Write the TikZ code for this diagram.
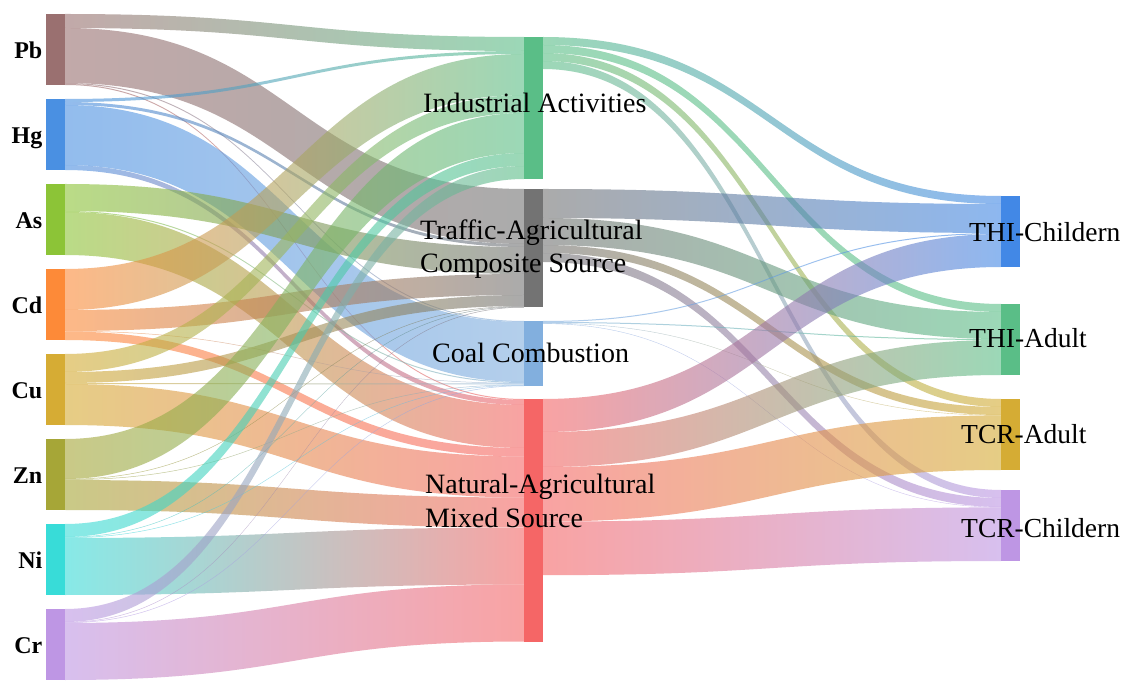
\documentclass[tikz,border=0pt]{standalone}
\usepackage{fontspec}
\setmainfont{Liberation Serif}
\usetikzlibrary{calc}
\definecolor{cPb}{RGB}{154,112,112}
\definecolor{cHg}{RGB}{74,144,226}
\definecolor{cAs}{RGB}{140,196,55}
\definecolor{cCd}{RGB}{253,138,56}
\definecolor{cCu}{RGB}{214,172,52}
\definecolor{cZn}{RGB}{166,166,55}
\definecolor{cNi}{RGB}{56,220,216}
\definecolor{cCr}{RGB}{190,150,228}
\definecolor{cInd}{RGB}{90,190,135}
\definecolor{cTra}{RGB}{115,115,115}
\definecolor{cCoa}{RGB}{130,175,222}
\definecolor{cNat}{RGB}{245,102,102}
\definecolor{cTHC}{RGB}{66,136,230}
\definecolor{cTHA}{RGB}{90,190,135}
\definecolor{cTCA}{RGB}{213,172,52}
\definecolor{cTCC}{RGB}{190,150,228}
\pgfdeclarelayer{back}
\pgfdeclarelayer{links}
\pgfsetlayers{back,links,main}
\tikzset{
  box/.style={inner sep=0pt, outer sep=0pt, minimum width=19pt, anchor=north west},
  elabel/.style={font=\fontsize{24}{28}\selectfont\bfseries, inner sep=0pt, anchor=base east},
  mlabel/.style={font=\fontsize{28}{33}\selectfont, inner sep=0pt, anchor=base west},
  rlabel/.style={font=\fontsize{27.5}{33}\selectfont, inner sep=0pt, anchor=base west},
  link/.style={fill opacity=0.6},
}
% #1 source node, #2 offset at source, #3 target node, #4 offset at target, #5 width, #6 #7 colours
\newcommand\flow[7]{%
  \shade[link, left color=#6, right color=#7]
    let \p1=(#1.north east), \p2=(#3.north west) in
    (\x1,\y1-#2pt) .. controls ({(\x1+\x2)/2},\y1-#2pt) and ({(\x1+\x2)/2},\y2-#4pt) .. (\x2,\y2-#4pt)
    -- (\x2,\y2-#4pt-#5pt) .. controls ({(\x1+\x2)/2},\y2-#4pt-#5pt) and ({(\x1+\x2)/2},\y1-#2pt-#5pt) .. (\x1,\y1-#2pt-#5pt)
    -- cycle;
}
\begin{document}
\begin{tikzpicture}[x=1pt,y=-1pt]
\useasboundingbox (0,0) rectangle (1128,692);
\begin{pgfonlayer}{back}
  \fill[white] (0,0) rectangle (1128,692);
\end{pgfonlayer}

% left nodes
\node[box, minimum height=71pt, fill=cPb] (pb) at (46,14) {};
\node[box, minimum height=71pt, fill=cHg] (hg) at (46,99) {};
\node[box, minimum height=71pt, fill=cAs] (as) at (46,184) {};
\node[box, minimum height=71pt, fill=cCd] (cd) at (46,269) {};
\node[box, minimum height=71pt, fill=cCu] (cu) at (46,354) {};
\node[box, minimum height=71pt, fill=cZn] (zn) at (46,439) {};
\node[box, minimum height=71pt, fill=cNi] (ni) at (46,524) {};
\node[box, minimum height=71pt, fill=cCr] (cr) at (46,609) {};
% middle nodes
\node[box, minimum height=142pt, fill=cInd] (ind) at (524,37) {};
\node[box, minimum height=118.5pt, fill=cTra] (tra) at (524,189) {};
\node[box, minimum height=65pt, fill=cCoa] (coa) at (524,321) {};
\node[box, minimum height=242.5pt, fill=cNat] (nat) at (524,399) {};
% right nodes
\node[box, minimum height=71pt, fill=cTHC] (thc) at (1001,196) {};
\node[box, minimum height=71pt, fill=cTHA] (tha) at (1001,304) {};
\node[box, minimum height=71pt, fill=cTCA] (tca) at (1001,399) {};
\node[box, minimum height=71pt, fill=cTCC] (tcc) at (1001,490) {};

\begin{pgfonlayer}{links}
% Pb
\flow{pb}{0}{ind}{0}{14}{cPb}{cInd}
\flow{pb}{14}{tra}{0}{55}{cPb}{cTra}
\flow{pb}{69}{coa}{0}{1}{cPb}{cCoa}
\flow{pb}{70}{nat}{0}{1}{cPb}{cNat}
% Hg
\flow{hg}{0}{ind}{14}{3}{cHg}{cInd}
\flow{hg}{3}{tra}{55}{3}{cHg}{cTra}
\flow{hg}{6}{coa}{1}{60}{cHg}{cCoa}
\flow{hg}{66}{nat}{1}{5}{cHg}{cNat}
% As
\flow{as}{0}{tra}{58}{27}{cAs}{cTra}
\flow{as}{27}{coa}{61}{1}{cAs}{cCoa}
\flow{as}{28}{nat}{6}{43}{cAs}{cNat}
% Cd
\flow{cd}{0}{ind}{17}{41}{cCd}{cInd}
\flow{cd}{41}{tra}{85}{21}{cCd}{cTra}
\flow{cd}{62}{coa}{62}{0.5}{cCd}{cCoa}
\flow{cd}{62.5}{nat}{49}{8.5}{cCd}{cNat}
% Cu
\flow{cu}{0}{ind}{58}{18}{cCu}{cInd}
\flow{cu}{18}{tra}{106}{11}{cCu}{cTra}
\flow{cu}{29}{coa}{62.5}{1}{cCu}{cCoa}
\flow{cu}{30}{nat}{57.5}{41}{cCu}{cNat}
% Zn
\flow{zn}{0}{ind}{76}{40}{cZn}{cInd}
\flow{zn}{40}{tra}{117}{0.5}{cZn}{cTra}
\flow{zn}{40.5}{coa}{63.5}{0.5}{cZn}{cCoa}
\flow{zn}{41}{nat}{98.5}{30}{cZn}{cNat}
% Ni
\flow{ni}{0}{ind}{116}{13}{cNi}{cInd}
\flow{ni}{13}{tra}{117.5}{0.5}{cNi}{cTra}
\flow{ni}{13.5}{coa}{64}{0.5}{cNi}{cCoa}
\flow{ni}{14}{nat}{128.5}{57}{cNi}{cNat}
% Cr
\flow{cr}{0}{ind}{129}{13}{cCr}{cInd}
\flow{cr}{13}{tra}{118}{0.5}{cCr}{cTra}
\flow{cr}{13.5}{coa}{64.5}{0.5}{cCr}{cCoa}
\flow{cr}{14}{nat}{185.5}{57}{cCr}{cNat}
% Industrial
\flow{ind}{0}{thc}{0}{8}{cInd}{cTHC}
\flow{ind}{8}{tha}{0}{8}{cInd}{cTHA}
\flow{ind}{16}{tca}{0}{8}{cInd}{cTCA}
\flow{ind}{24}{tcc}{0}{8}{cInd}{cTCC}
% Traffic
\flow{tra}{0}{thc}{8}{29}{cTra}{cTHC}
\flow{tra}{29}{tha}{8}{27}{cTra}{cTHA}
\flow{tra}{56}{tca}{8}{8}{cTra}{cTCA}
\flow{tra}{64}{tcc}{8}{9}{cTra}{cTCC}
% Coal
\flow{coa}{0}{thc}{37}{1}{cCoa}{cTHC}
\flow{coa}{1}{tha}{35}{1}{cCoa}{cTHA}
\flow{coa}{2}{tca}{16}{0.4}{cCoa}{cTCA}
\flow{coa}{2.4}{tcc}{17}{0.4}{cCoa}{cTCC}
% Natural
\flow{nat}{0}{thc}{38}{33}{cNat}{cTHC}
\flow{nat}{33}{tha}{36}{35}{cNat}{cTHA}
\flow{nat}{68}{tca}{16.4}{54.6}{cNat}{cTCA}
\flow{nat}{122.6}{tcc}{17.4}{53.6}{cNat}{cTCC}
\end{pgfonlayer}

% labels
\node[elabel] (lpb) at (42.5,58.2) {Pb};
\node[elabel] (lhg) at (42.5,143.2) {Hg};
\node[elabel] (las) at (42.5,228.2) {As};
\node[elabel] (lcd) at (42.5,313.2) {Cd};
\node[elabel] (lcu) at (42.5,398.2) {Cu};
\node[elabel] (lzn) at (42.5,483.2) {Zn};
\node[elabel] (lni) at (42.5,568.2) {Ni};
\node[elabel] (lcr) at (42.5,653.2) {Cr};

\node[mlabel] (lind) at (423,112.7) {Industrial Activities};
\node[mlabel] (ltra1) at (420,240) {Traffic-Agricultural};
\node[mlabel] (ltra2) at (420,273) {Composite Source};
\node[mlabel] (lcoa) at (432,362.7) {Coal Combustion};
\node[mlabel] (lnat1) at (425,494) {Natural-Agricultural};
\node[mlabel] (lnat2) at (425,527.5) {Mixed Source};

\node[rlabel] (lthc) at (969,241.5) {THI-Childern};
\node[rlabel] (ltha) at (969,348) {THI-Adult};
\node[rlabel] (ltca) at (961,444) {TCR-Adult};
\node[rlabel] (ltcc) at (961,537) {TCR-Childern};
\end{tikzpicture}
\end{document}
